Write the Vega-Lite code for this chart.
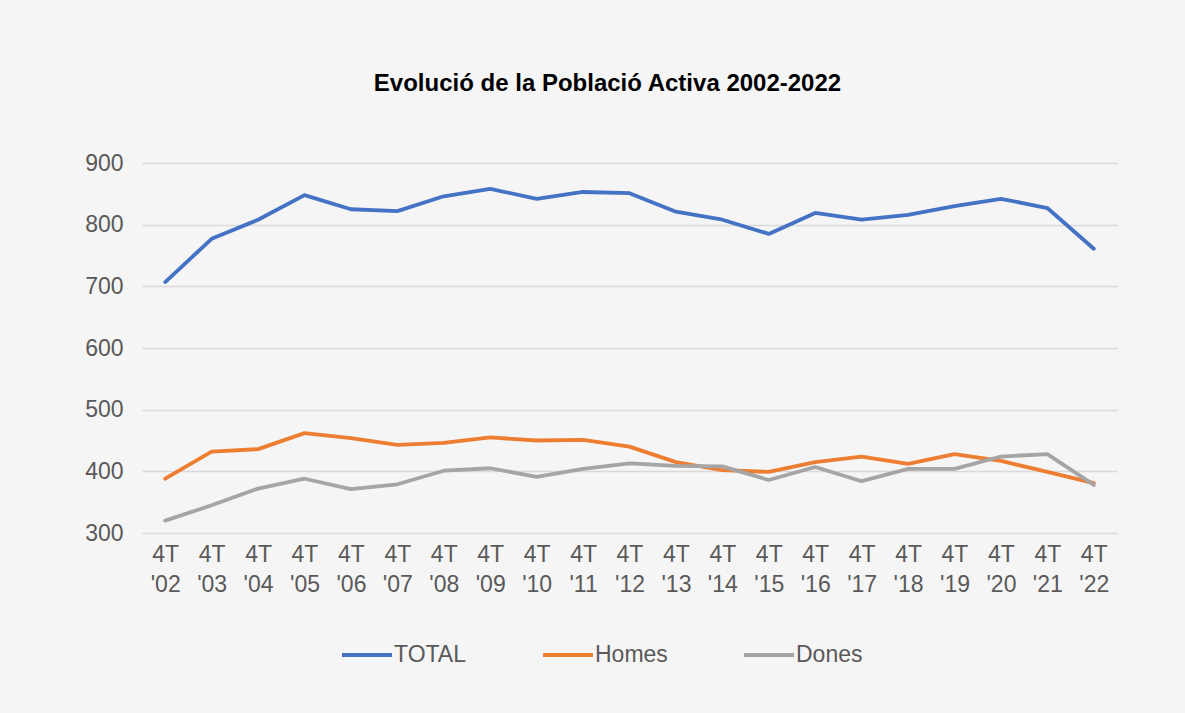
{
  "$schema": "https://vega.github.io/schema/vega-lite/v6.json",
  "autosize": "none",
  "width": 975,
  "height": 370,
  "padding": {"left": 142, "top": 163, "right": 68, "bottom": 180},
  "background": "#f5f5f5",
  "title": {
    "text": "Evolució de la Població Activa 2002-2022",
    "font": "Liberation Sans",
    "fontSize": 24,
    "fontWeight": "bold",
    "color": "#000000",
    "anchor": "middle",
    "dx": -22,
    "offset": 56
  },
  "data": {
    "values": [
      {"trim": "4T '02", "serie": "TOTAL", "valor": 707},
      {"trim": "4T '03", "serie": "TOTAL", "valor": 777},
      {"trim": "4T '04", "serie": "TOTAL", "valor": 808},
      {"trim": "4T '05", "serie": "TOTAL", "valor": 848},
      {"trim": "4T '06", "serie": "TOTAL", "valor": 825},
      {"trim": "4T '07", "serie": "TOTAL", "valor": 822},
      {"trim": "4T '08", "serie": "TOTAL", "valor": 846},
      {"trim": "4T '09", "serie": "TOTAL", "valor": 858},
      {"trim": "4T '10", "serie": "TOTAL", "valor": 842},
      {"trim": "4T '11", "serie": "TOTAL", "valor": 853},
      {"trim": "4T '12", "serie": "TOTAL", "valor": 851},
      {"trim": "4T '13", "serie": "TOTAL", "valor": 821},
      {"trim": "4T '14", "serie": "TOTAL", "valor": 808},
      {"trim": "4T '15", "serie": "TOTAL", "valor": 785},
      {"trim": "4T '16", "serie": "TOTAL", "valor": 819},
      {"trim": "4T '17", "serie": "TOTAL", "valor": 808},
      {"trim": "4T '18", "serie": "TOTAL", "valor": 816},
      {"trim": "4T '19", "serie": "TOTAL", "valor": 830},
      {"trim": "4T '20", "serie": "TOTAL", "valor": 842},
      {"trim": "4T '21", "serie": "TOTAL", "valor": 827},
      {"trim": "4T '22", "serie": "TOTAL", "valor": 761},
      {"trim": "4T '02", "serie": "Homes", "valor": 388},
      {"trim": "4T '03", "serie": "Homes", "valor": 432},
      {"trim": "4T '04", "serie": "Homes", "valor": 436},
      {"trim": "4T '05", "serie": "Homes", "valor": 462},
      {"trim": "4T '06", "serie": "Homes", "valor": 454},
      {"trim": "4T '07", "serie": "Homes", "valor": 443},
      {"trim": "4T '08", "serie": "Homes", "valor": 446},
      {"trim": "4T '09", "serie": "Homes", "valor": 455},
      {"trim": "4T '10", "serie": "Homes", "valor": 450},
      {"trim": "4T '11", "serie": "Homes", "valor": 451},
      {"trim": "4T '12", "serie": "Homes", "valor": 440},
      {"trim": "4T '13", "serie": "Homes", "valor": 415},
      {"trim": "4T '14", "serie": "Homes", "valor": 402},
      {"trim": "4T '15", "serie": "Homes", "valor": 399},
      {"trim": "4T '16", "serie": "Homes", "valor": 415},
      {"trim": "4T '17", "serie": "Homes", "valor": 424},
      {"trim": "4T '18", "serie": "Homes", "valor": 412},
      {"trim": "4T '19", "serie": "Homes", "valor": 428},
      {"trim": "4T '20", "serie": "Homes", "valor": 417},
      {"trim": "4T '21", "serie": "Homes", "valor": 399},
      {"trim": "4T '22", "serie": "Homes", "valor": 381},
      {"trim": "4T '02", "serie": "Dones", "valor": 320},
      {"trim": "4T '03", "serie": "Dones", "valor": 345},
      {"trim": "4T '04", "serie": "Dones", "valor": 372},
      {"trim": "4T '05", "serie": "Dones", "valor": 388},
      {"trim": "4T '06", "serie": "Dones", "valor": 371},
      {"trim": "4T '07", "serie": "Dones", "valor": 379},
      {"trim": "4T '08", "serie": "Dones", "valor": 401},
      {"trim": "4T '09", "serie": "Dones", "valor": 405},
      {"trim": "4T '10", "serie": "Dones", "valor": 391},
      {"trim": "4T '11", "serie": "Dones", "valor": 404},
      {"trim": "4T '12", "serie": "Dones", "valor": 413},
      {"trim": "4T '13", "serie": "Dones", "valor": 409},
      {"trim": "4T '14", "serie": "Dones", "valor": 408},
      {"trim": "4T '15", "serie": "Dones", "valor": 386},
      {"trim": "4T '16", "serie": "Dones", "valor": 407},
      {"trim": "4T '17", "serie": "Dones", "valor": 384},
      {"trim": "4T '18", "serie": "Dones", "valor": 404},
      {"trim": "4T '19", "serie": "Dones", "valor": 404},
      {"trim": "4T '20", "serie": "Dones", "valor": 424},
      {"trim": "4T '21", "serie": "Dones", "valor": 428},
      {"trim": "4T '22", "serie": "Dones", "valor": 378}
    ]
  },
  "mark": {"type": "line", "strokeWidth": 3.8, "strokeJoin": "round", "strokeCap": "round"},
  "encoding": {
    "x": {
      "field": "trim",
      "type": "ordinal",
      "sort": null,
      "scale": {"type": "point", "padding": 0.5},
      "axis": {
        "title": null,
        "labelAngle": 0,
        "labelExpr": "split(datum.label, ' ')",
        "labelFont": "Liberation Sans",
        "labelFontSize": 23,
        "labelColor": "#595959",
        "labelLineHeight": 30,
        "labelPadding": 10,
        "labelBaseline": "top",
        "domain": false,
        "ticks": false,
        "grid": false
      }
    },
    "y": {
      "field": "valor",
      "type": "quantitative",
      "scale": {"domain": [300, 900], "nice": false, "zero": false},
      "axis": {
        "title": null,
        "values": [300, 400, 500, 600, 700, 800, 900],
        "labelFont": "Liberation Sans",
        "labelFontSize": 23,
        "labelColor": "#595959",
        "labelPadding": 19,
        "domain": false,
        "ticks": false,
        "gridColor": "#d9d9d9",
        "gridWidth": 1.5
      }
    },
    "color": {
      "field": "serie",
      "type": "nominal",
      "scale": {"domain": ["TOTAL", "Homes", "Dones"], "range": ["#4472c4", "#ed7d31", "#a5a5a5"]},
      "legend": {
        "title": null,
        "orient": "none",
        "direction": "horizontal",
        "legendX": 198,
        "legendY": 465,
        "symbolType": "stroke",
        "symbolSize": 2500,
        "symbolStrokeWidth": 4,
        "labelFont": "Liberation Sans",
        "labelFontSize": 23,
        "labelColor": "#595959",
        "labelOffset": 0,
        "gridAlign": "all",
        "columnPadding": 68
      }
    }
  },
  "config": {"view": {"stroke": null}}
}
